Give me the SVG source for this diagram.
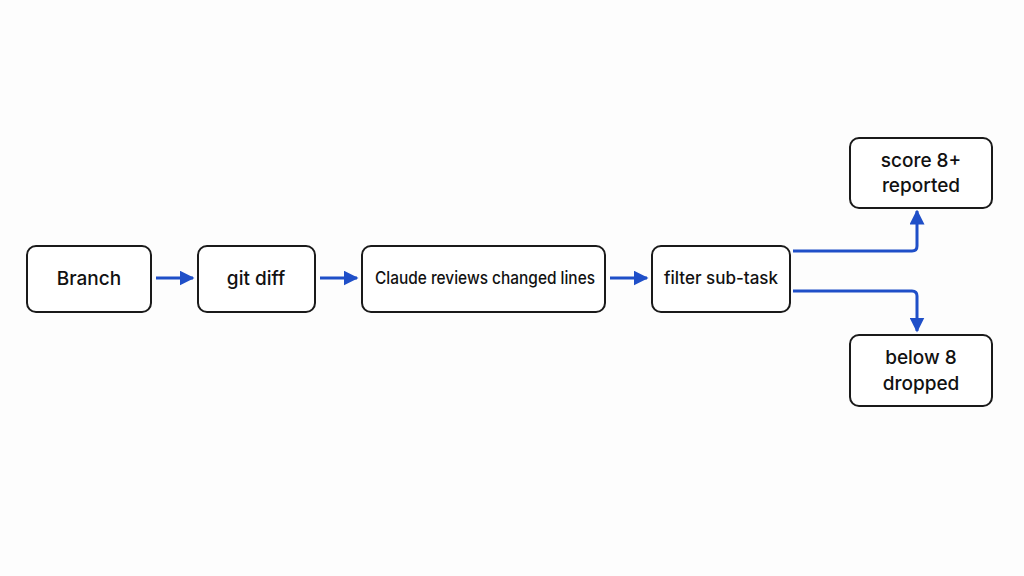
<svg xmlns="http://www.w3.org/2000/svg" width="1024" height="576" viewBox="0 0 1024 576">
<style>
.n{fill:#fff;stroke:#1a1a1a;stroke-width:2}
.t{font-family:Inter,"Liberation Sans",sans-serif;font-size:19px;fill:#111;text-anchor:middle;font-weight:500}
.c{fill:none;stroke:#1f4fc8;stroke-width:3;stroke-linejoin:round}
</style>
<defs><marker id="a" viewBox="0 0 10 10" refX="9" refY="5" markerWidth="5" markerHeight="5" orient="auto"><path d="M0,0L10,5L0,10z" fill="#1f4fc8"/></marker></defs>
<rect width="1024" height="576" fill="#fdfdfd"/>
<g id="branch"><rect class="n" x="27" y="246" width="124" height="66" rx="9"/><text class="t" x="89" y="285">Branch</text></g>
<g id="gitdiff"><rect class="n" x="198" y="246" width="117" height="66" rx="9"/><text class="t" x="256" y="285">git diff</text></g>
<g id="claude"><rect class="n" x="362" y="246" width="243" height="66" rx="9"/><text class="t" x="485" y="284" style="font-size:17px" textLength="220" lengthAdjust="spacingAndGlyphs">Claude reviews changed lines</text></g>
<g id="filter"><rect class="n" x="652" y="246" width="138" height="66" rx="9"/><text class="t" x="721" y="284" style="font-size:17px">filter sub-task</text></g>
<g id="score"><rect class="n" x="850" y="138" width="142" height="70" rx="9"/><text class="t" x="921" y="167">score 8+</text><text class="t" x="921" y="192">reported</text></g>
<g id="below"><rect class="n" x="850" y="335" width="142" height="71" rx="9"/><text class="t" x="921" y="364">below 8</text><text class="t" x="921" y="390">dropped</text></g>
<g id="connectors">
<path class="c" marker-end="url(#a)" d="M156,278H193"/>
<path class="c" marker-end="url(#a)" d="M320,278H357"/>
<path class="c" marker-end="url(#a)" d="M610,278H647"/>
<path class="c" marker-end="url(#a)" d="M793,251H912Q917,251 917,246V211"/>
<path class="c" marker-end="url(#a)" d="M793,291H912Q917,291 917,296V331"/>
</g>
</svg>
